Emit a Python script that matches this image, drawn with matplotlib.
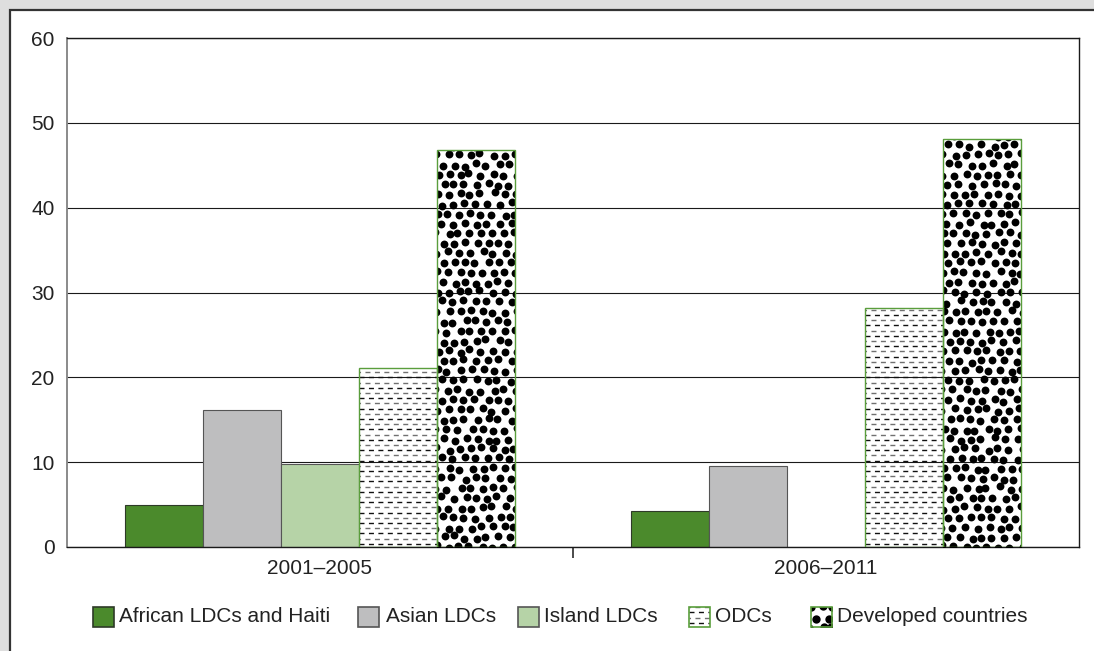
import numpy as np
import matplotlib
matplotlib.use("Agg")
import matplotlib.pyplot as plt
from matplotlib.patches import Rectangle

plt.rcParams["font.family"] = ["Liberation Sans", "DejaVu Sans"]
plt.rcParams["lines.scale_dashes"] = False

# ---- data -------------------------------------------------------------
periods = ["2001\u20132005", "2006\u20132011"]
series_names = ["African LDCs and Haiti", "Asian LDCs", "Island LDCs",
                "ODCs", "Developed countries"]
african = [4.9, 4.3]
asian = [16.2, 9.5]
island = [9.8, np.nan]
odcs = [21.1, 28.2]
developed = [46.8, 48.1]
y_ticks = [0, 10, 20, 30, 40, 50, 60]

# ---- styling ----------------------------------------------------------
GREEN = "#4b8a2c"
GREY = "#bebebf"
LIGHT_GREEN = "#b6d3a7"
PATTERN_EDGE = "#5a9e3c"
FONT = 15

W, H, DPI = 1094, 651, 100
fig = plt.figure(figsize=(W / DPI, H / DPI), dpi=DPI, facecolor="#dedede")

# white framed panel
fig.patches.append(Rectangle((10 / W, -0.1), 1.2, (H - 10) / H + 0.1,
                             transform=fig.transFigure, facecolor="white",
                             edgecolor="#333333", linewidth=1.6, zorder=-10))

ax = fig.add_axes([67 / W, 104 / H, 1012 / W, 509 / H])
ax.set_xlim(-0.5, 1.5)
ax.set_ylim(0, 60)
ax.set_facecolor("none")

# px -> data conversion factors
sx = 2.0 / 1012.0
sy = 60.0 / 509.0

x = np.arange(len(periods))
bw = 0.154
offsets = (np.arange(5) - 2) * bw

ax.set_axisbelow(True)
ax.yaxis.grid(True, color="#1a1a1a", linewidth=0.8)
ax.set_yticks(y_ticks)

b_af = ax.bar(x + offsets[0], african, bw, color=GREEN, edgecolor="#2e3a28",
              linewidth=0.8, zorder=2)
b_as = ax.bar(x + offsets[1], asian, bw, color=GREY, edgecolor="#555555",
              linewidth=0.8, zorder=2)
b_is = ax.bar(x + offsets[2], island, bw, color=LIGHT_GREEN, edgecolor="#555555",
              linewidth=0.8, zorder=2)
b_od = ax.bar(x + offsets[3], odcs, bw, facecolor="none", edgecolor=PATTERN_EDGE,
              linewidth=1.0, zorder=4)
b_dv = ax.bar(x + offsets[4], developed, bw, facecolor="none",
              edgecolor=PATTERN_EDGE, linewidth=1.0, zorder=4)


def dash_texture(axis, x0, y0, w, h, kx, ky, clip):
    """Rows of short dashes, alternating black and grey."""
    step = 5.2
    n = int(h / step) + 1
    for i in range(n):
        yy = y0 + (i + 0.6) * step
        col = "#111111" if i % 2 == 0 else "#707070"
        off = 0 if i % 2 == 0 else 2.5
        ln, = axis.plot([x0 * kx, (x0 + w) * kx], [yy * ky, yy * ky],
                        color=col, linewidth=1.0, solid_capstyle="butt",
                        dash_capstyle="butt",
                        linestyle=(off, (3.6, 3.2)), zorder=3)
        ln.set_clip_path(clip)


def dot_texture(axis, x0, y0, w, h, kx, ky, clip, seed, size=32):
    """Irregular field of solid black dots."""
    rng = np.random.default_rng(seed)
    dx, dy = 11.2, 9.8
    pts = []
    rows = int(h / dy) + 2
    cols = int(w / dx) + 2
    for r in range(rows):
        for c in range(cols):
            px = x0 + c * dx + (dx / 2 if r % 2 else 0) + rng.uniform(-2.4, 2.4)
            py = y0 + r * dy + rng.uniform(-2.0, 2.0)
            pts.append((px, py))
    pts = np.array(pts)
    sc = axis.scatter(pts[:, 0] * kx, pts[:, 1] * ky, s=size, color="black",
                      linewidths=0, zorder=3)
    sc.set_clip_path(clip)


for i, p in enumerate(b_od.patches):
    if not np.isfinite(p.get_height()):
        continue
    dash_texture(ax, p.get_x() / sx, 0, p.get_width() / sx,
                 p.get_height() / sy, sx, sy, p)

for i, p in enumerate(b_dv.patches):
    dot_texture(ax, p.get_x() / sx, 0, p.get_width() / sx,
                p.get_height() / sy, sx, sy, p, seed=7 + i)

# ---- axes decoration --------------------------------------------------
for side in ("top", "right", "bottom"):
    ax.spines[side].set_color("#1a1a1a")
    ax.spines[side].set_linewidth(1.0)
ax.spines["left"].set_color("#8a8a8a")
ax.spines["left"].set_linewidth(1.4)

ax.set_xticks(x)
ax.set_xticklabels(periods, fontsize=FONT, color="#222222")
ax.set_xticks([0.5], minor=True)
ax.tick_params(axis="x", which="major", length=0, pad=9)
ax.tick_params(axis="x", which="minor", length=8, width=1.1, color="#1a1a1a")
ax.tick_params(axis="y", length=0, pad=9, labelsize=FONT, labelcolor="#222222")

# ---- legend -----------------------------------------------------------
box_left = [92, 357, 517, 688, 810]
text_left = [119, 386, 544, 715, 837]
box_w, box_h, box_top = 23, 22, 606
kinds = ["solid", "solid", "solid", "dash", "dot"]
faces = [GREEN, GREY, LIGHT_GREEN, "white", "white"]
edges = ["#2e3a28", "#555555", "#555555", PATTERN_EDGE, PATTERN_EDGE]

for name, bl, tl, kind, fc, ec in zip(series_names, box_left, text_left,
                                      kinds, faces, edges):
    sw = fig.add_axes([bl / W, (H - box_top - box_h) / H, box_w / W, box_h / H])
    sw.set_xlim(0, box_w)
    sw.set_ylim(0, box_h)
    sw.axis("off")
    rect = Rectangle((0.6, 0.6), box_w - 1.2, box_h - 1.2, facecolor=fc,
                     edgecolor=ec, linewidth=1.2, zorder=5 if kind != "solid" else 1)
    if kind != "solid":
        rect.set_facecolor("none")
    sw.add_patch(rect)
    if kind == "dash":
        dash_texture(sw, 1, 2, box_w - 2, box_h - 4, 1, 1, rect)
    elif kind == "dot":
        dot_texture(sw, 1, 1, box_w - 2, box_h - 2, 1, 1, rect, seed=3, size=36)
    fig.text(tl / W, (H - box_top - box_h / 2) / H, name, fontsize=FONT,
             color="#222222", va="center", ha="left")

fig.savefig("out.png", dpi=DPI, facecolor=fig.get_facecolor())
